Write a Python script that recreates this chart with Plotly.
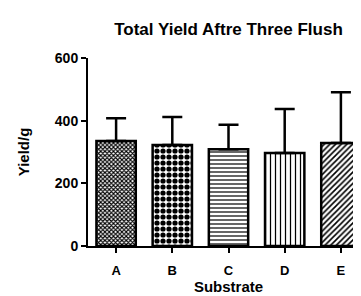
import plotly.graph_objects as go

categories = ["A", "B", "C", "D", "E"]
yield_mean = [335, 322, 309, 297, 329]
yield_err_top = [408, 412, 387, 437, 491]
y_ticks = [0, 200, 400, 600]

err_plus = [t - m for t, m in zip(yield_err_top, yield_mean)]

FONT = "Liberation Sans, Arial, sans-serif"

fig = go.Figure(
    go.Bar(
        x=categories,
        y=yield_mean,
        width=0.7,
        marker=dict(
            color="white",
            line=dict(color="black", width=2.5),
            pattern=dict(
                shape=["x", ".", "-", "|", "/"],
                size=[3, 6, 4, 5, 4],
                solidity=[0.6, 0.6, 0.3, 0.25, 0.4],
                fgcolor="black",
                bgcolor="white",
                fillmode="replace",
            ),
        ),
        error_y=dict(
            type="data",
            symmetric=False,
            array=err_plus,
            arrayminus=[0] * len(err_plus),
            color="black",
            thickness=2.5,
            width=10,
        ),
    )
)

axis_common = dict(
    showline=True,
    linecolor="black",
    linewidth=2,
    ticks="outside",
    tickwidth=2,
    tickcolor="black",
    ticklen=5,
    showgrid=False,
    zeroline=False,
    automargin=False,
)

fig.update_layout(
    width=361,
    height=296,
    margin=dict(l=80, r=0, t=50, b=58),
    paper_bgcolor="white",
    plot_bgcolor="white",
    showlegend=False,
    font=dict(family=FONT, color="black"),
    title=dict(
        text="Total Yield Aftre Three Flush",
        font=dict(family=FONT, size=17, color="black", weight="bold"),
        x=0.5,
        xref="paper",
        xanchor="center",
        y=0.93,
        yref="container",
        yanchor="middle",
        automargin=False,
    ),
    xaxis=dict(
        **axis_common,
        range=[-0.5, 4.5],
        ticklabelstandoff=6,
        tickfont=dict(family=FONT, size=13, color="black", weight="bold"),
        title=dict(
            text="Substrate",
            font=dict(family=FONT, size=15, color="black", weight="bold"),
            standoff=3,
        ),
    ),
    yaxis=dict(
        **axis_common,
        range=[0, 600],
        tickvals=y_ticks,
        tickfont=dict(family=FONT, size=14, color="black", weight="bold"),
        title=dict(
            text="Yield/g",
            font=dict(family=FONT, size=15, color="black", weight="bold"),
            standoff=22,
        ),
    ),
)

fig.write_html("out.html")
